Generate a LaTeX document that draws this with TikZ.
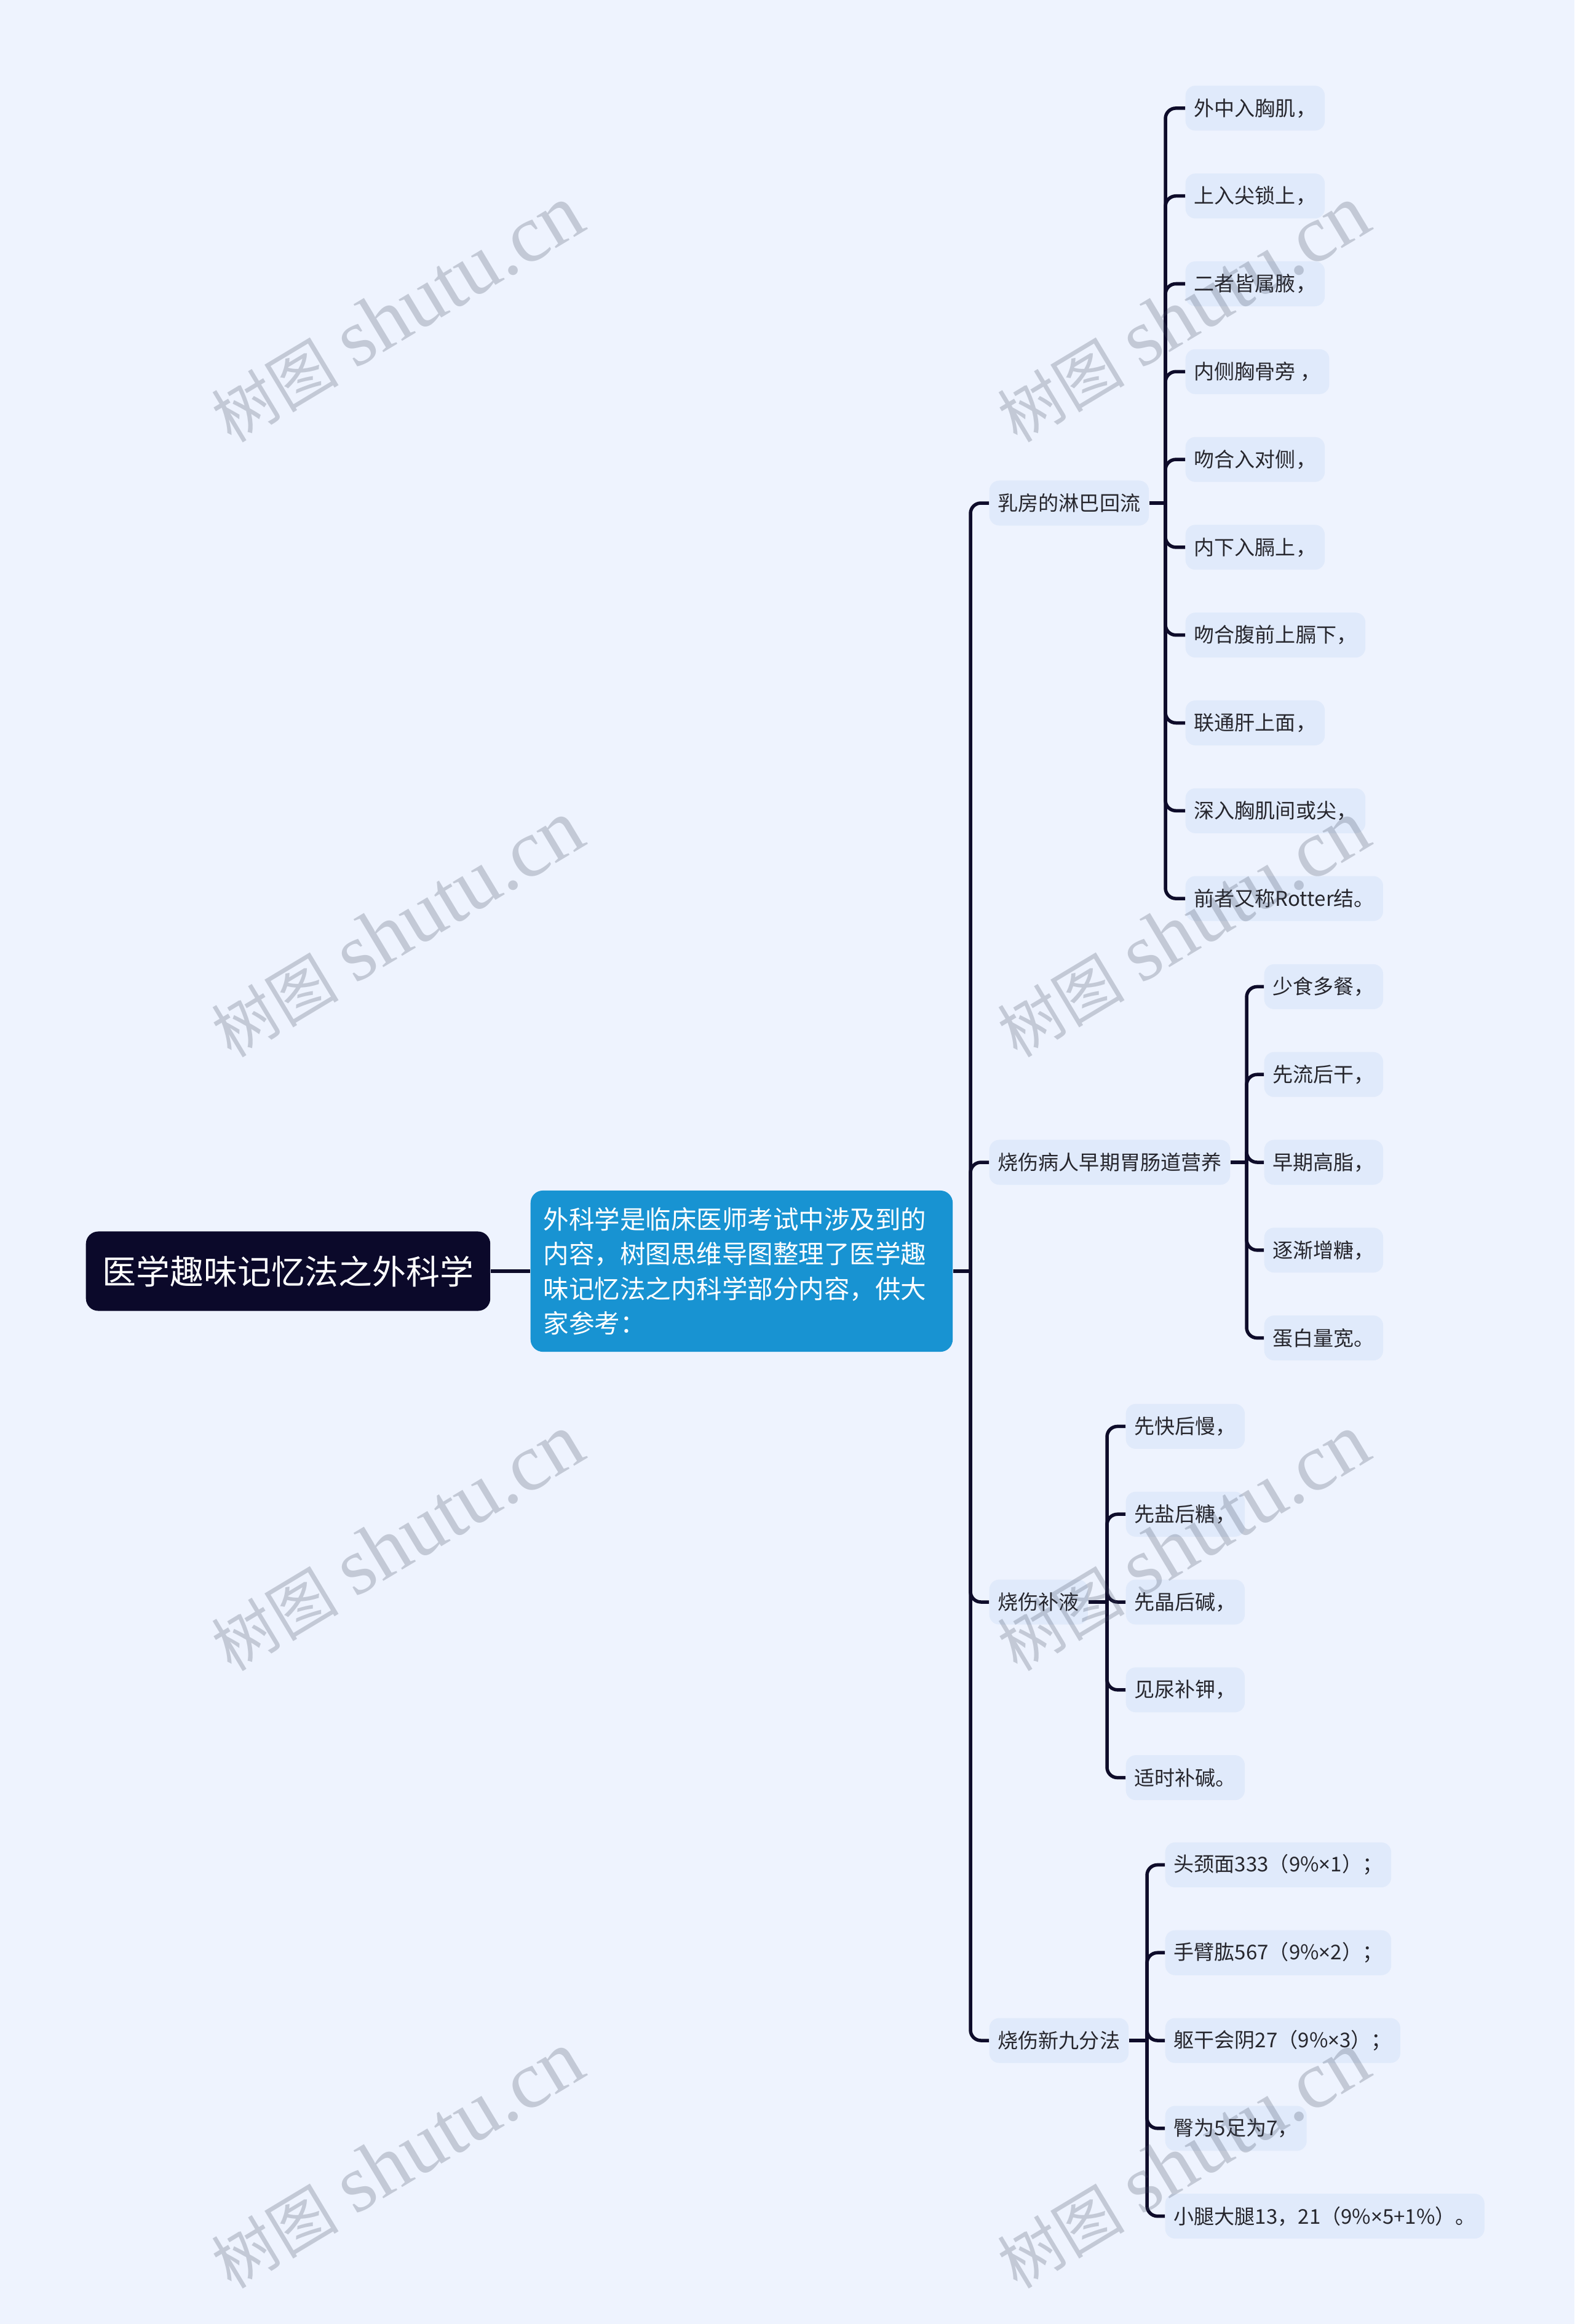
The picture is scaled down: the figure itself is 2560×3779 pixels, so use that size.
\documentclass[tikz,border=0pt]{standalone}
\usepackage{fontspec}
\setmainfont{Noto Sans CJK SC}
\newfontfamily\wmserif{Liberation Serif}
\newfontfamily\wmcjk{Noto Sans CJK SC}
\newfontfamily\latinf{Noto Sans}
\newcommand{\tms}{{\latinf ×}}
\definecolor{bgc}{RGB}{238,243,254}
\definecolor{leaffill}{RGB}{224,234,251}
\definecolor{rootc}{RGB}{11,9,42}
\definecolor{descc}{RGB}{24,147,210}
\definecolor{linec}{RGB}{14,12,42}
\definecolor{txtc}{RGB}{38,38,45}
\definecolor{wmc}{RGB}{60,70,90}
\tikzset{
  leafbox/.style={anchor=west, fill=leaffill, rounded corners=0.16cm, minimum height=0.73cm,
    inner xsep=0.14cm, inner ysep=0pt, font=\fontsize{9.4}{11}\selectfont, text=txtc},
  rootbox/.style={anchor=west, fill=rootc, rounded corners=0.2cm, minimum height=1.29cm,
    inner xsep=0.27cm, font=\fontsize{15.6}{18}\selectfont, text=white},
  descbox/.style={anchor=west, fill=descc, rounded corners=0.2cm, minimum height=2.62cm,
    text width=6.44cm, inner xsep=0.21cm, align=left, font=\fontsize{11.8}{16.1}\selectfont, text=white},
  conn/.style={draw=linec, line width=0.055cm, rounded corners=0.17cm},
  wmark/.style={rotate=31, text=wmc, opacity=0.24}
}
\begin{document}
\begin{tikzpicture}[x=0.01cm, y=-0.01cm]
\path[use as bounding box, fill=bgc] (0,0) rectangle (2560,3779);

% root and description
\node[rootbox] (r) at (139,2067) {医学趣味记忆法之外科学};
\node[descbox] (d) at (862,2067) {外科学是临床医师考试中涉及到的\\内容，树图思维导图整理了医学趣\\味记忆法之内科学部分内容，供大\\家参考：};
\draw[conn] (r.east) -- (d.west);
\coordinate (tj) at (1578,2067);
\draw[conn] (d.east) -- (tj);

% level 2
\node[leafbox] (b1) at (1608,818) {乳房的淋巴回流};
\node[leafbox] (b2) at (1608,1890) {烧伤病人早期胃肠道营养};
\node[leafbox] (b3) at (1608,2605) {烧伤补液};
\node[leafbox] (b4) at (1608,3318) {烧伤新九分法};
\foreach \b in {b1,b2,b3,b4} \draw[conn] (tj) |- (\b.west);

% branch 1
\coordinate (j1) at (1895,818);
\draw[conn] (b1.east) -- (j1);
\foreach \t [count=\i] in {外中入胸肌，,上入尖锁上，,二者皆属腋，,内侧胸骨旁 ，,吻合入对侧，,内下入膈上，,吻合腹前上膈下，,联通肝上面，,深入胸肌间或尖，,前者又称Rotter结。}{
  \node[leafbox] (a\i) at (1927,{818.5+(\i-5.5)*142.8}) {\t};
  \draw[conn] (j1) |- (a\i.west);
}

% branch 2
\coordinate (j2) at (2027,1890);
\draw[conn] (b2.east) -- (j2);
\foreach \t [count=\i] in {少食多餐，,先流后干，,早期高脂，,逐渐增糖，,蛋白量宽。}{
  \node[leafbox] (c\i) at (2055,{1890+(\i-3)*142.8}) {\t};
  \draw[conn] (j2) |- (c\i.west);
}

% branch 3
\coordinate (j3) at (1800,2605);
\draw[conn] (b3.east) -- (j3);
\foreach \t [count=\i] in {先快后慢，,先盐后糖，,先晶后碱，,见尿补钾，,适时补碱。}{
  \node[leafbox] (e\i) at (1830,{2605+(\i-3)*142.8}) {\t};
  \draw[conn] (j3) |- (e\i.west);
}

% branch 4
\coordinate (j4) at (1865,3318);
\draw[conn] (b4.east) -- (j4);
\foreach \t [count=\i] in {头颈面333（9\%\tms1）；,手臂肱567（9\%\tms2）；,躯干会阴27（9\%\tms3）；,臀为5足为7，,小腿大腿13，21（9\%\tms5+1\%）。}{
  \node[leafbox] (f\i) at (1894,{3318+(\i-3)*142.8}) {\t};
  \draw[conn] (j4) |- (f\i.west);
}

% watermarks
\foreach \wx in {646,1924}{
  \foreach \wy in {511,1511,2509,3513}{
    \node[wmark] (w-\wx-\wy) at (\wx,\wy) {{\wmcjk\fontsize{29.4}{32}\selectfont 树图}\hspace{0.28cm}{\wmserif\fontsize{37.6}{40}\selectfont shutu.cn}};
  }
}
\end{tikzpicture}
\end{document}
